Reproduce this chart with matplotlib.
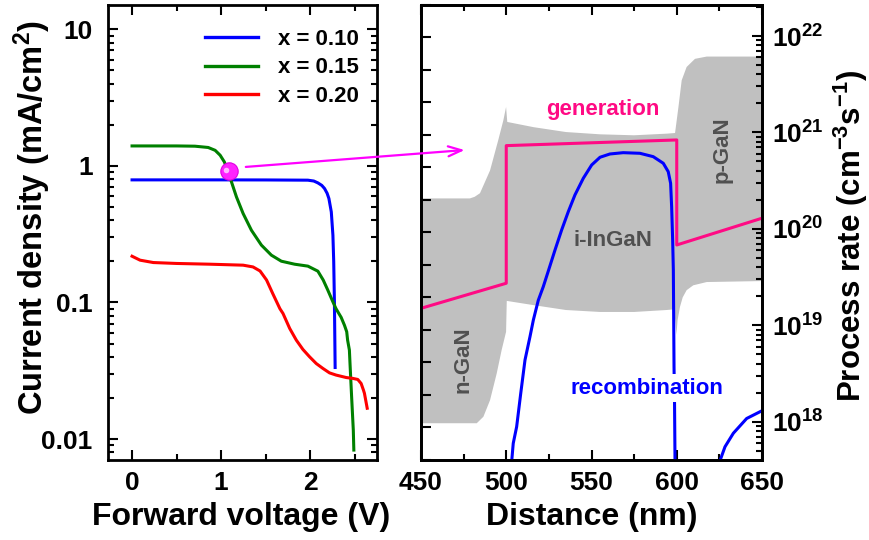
import numpy as np
import matplotlib
matplotlib.use('Agg')
import matplotlib.pyplot as plt
from matplotlib.ticker import LogLocator, NullFormatter, FixedLocator
from matplotlib.patches import ConnectionPatch

plt.rcParams['font.family'] = ['Liberation Sans', 'DejaVu Sans']
plt.rcParams['font.weight'] = 'bold'
plt.rcParams['mathtext.fontset'] = 'custom'
plt.rcParams['mathtext.rm'] = 'Liberation Sans:bold'
plt.rcParams['mathtext.bf'] = 'Liberation Sans:bold'
plt.rcParams['mathtext.it'] = 'Liberation Sans:bold'
plt.rcParams['mathtext.default'] = 'rm'

# ---------------- Left panel data: J-V curves ----------------
legend_labels = ['x = 0.10', 'x = 0.15', 'x = 0.20']
v_010 = [0.0, 0.5, 1.0, 1.5, 1.974, 2.04, 2.086, 2.13, 2.161, 2.19, 2.21, 2.237, 2.255,
         2.264, 2.272, 2.28]
j_010 = [0.79, 0.79, 0.79, 0.789, 0.786, 0.775, 0.751, 0.72, 0.683, 0.63, 0.577, 0.46, 0.311,
         0.20, 0.10, 0.0334]

v_015 = [0.0, 0.5, 0.706, 0.855, 0.933, 0.989, 1.036, 1.08, 1.116, 1.172, 1.247, 1.34, 1.452,
         1.564, 1.676, 1.825, 1.974, 2.086, 2.146, 2.198, 2.255, 2.29, 2.348, 2.385, 2.41,
         2.42, 2.44, 2.447, 2.465, 2.484, 2.49]
j_015 = [1.40, 1.40, 1.394, 1.364, 1.30, 1.197, 1.07, 0.903, 0.764, 0.593, 0.448, 0.338, 0.263,
         0.222, 0.2005, 0.1906, 0.1845, 0.1695, 0.146, 0.123, 0.101, 0.090, 0.0777, 0.068,
         0.061, 0.053, 0.0448, 0.0357, 0.0204, 0.0116, 0.0083]

v_020 = [0.0, 0.09, 0.239, 0.50, 0.873, 1.247, 1.358, 1.437, 1.51, 1.58, 1.66, 1.695, 1.77,
         1.844, 1.918, 1.993, 2.068, 2.142, 2.217, 2.29, 2.404, 2.477, 2.534, 2.572, 2.598,
         2.609, 2.64]
j_020 = [0.218, 0.204, 0.196, 0.193, 0.1906, 0.1875, 0.182, 0.170, 0.146, 0.116, 0.090, 0.083,
         0.0645, 0.053, 0.0453, 0.040, 0.0357, 0.0329, 0.0305, 0.0294, 0.0282, 0.0278, 0.0273,
         0.0255, 0.0228, 0.0216, 0.0168]

marker_v = [1.09]
marker_j = [0.92]

# ---------------- Right panel data ----------------
# energy band (arbitrary units, left axis)
band_top_x = [450, 478.7, 481.5, 484.6, 490.5, 495.3, 498.3, 499.9, 500.6, 516, 535, 555,
              575, 594, 599, 601, 602.9, 605.8, 610.7, 617.6, 650]
band_top = [8.04, 8.04, 8.09, 8.20, 8.90, 9.83, 10.44, 10.85, 10.39, 10.23, 10.08, 10.01,
            9.98, 10.03, 10.05, 10.85, 11.67, 12.08, 12.33, 12.40, 12.40]
band_bot_x = [450, 482.7, 486.6, 490.5, 494.4, 497.3, 499.9, 500.3, 516, 535, 555, 575,
              594, 598.4, 599.3, 599.8, 600.5, 601.9, 603.5, 605.8, 609.7, 617.6, 650]
band_bot = [1.13, 1.13, 1.33, 1.84, 2.66, 3.38, 3.94, 4.89, 4.76, 4.61, 4.55, 4.55,
            4.61, 4.63, 4.20, 3.85, 4.30, 4.71, 5.00, 5.22, 5.37, 5.47, 5.50]

# generation rate (cm^-3 s^-1)
gen_x = [450, 500, 500, 600, 600, 650]
gen_rate = [1.50e19, 2.73e19, 7.30e20, 8.36e20, 6.81e19, 1.29e20]

# recombination rate (cm^-3 s^-1)
rec_x = [503.0, 504.1, 506.1, 508.5, 511.0, 513.9, 515.9, 518.8, 521.7, 524.7, 528.6, 532.5,
         536.4, 540.3, 545.2, 550.1, 555.0, 560.8, 568.6, 578.4, 586.2, 592.1, 595.0, 596.4,
         597.0, 597.6, 598.0, 598.4, 598.7, 599.0]
rec_rate = [3.55e17, 5.97e17, 8.87e17, 1.97e18, 4.37e18, 7.59e18, 1.135e19, 1.82e19, 2.51e19,
            3.67e19, 6.04e19, 9.75e19, 1.51e20, 2.25e20, 3.35e20, 4.60e20, 5.53e20, 5.98e20,
            6.17e20, 6.08e20, 5.61e20, 4.79e20, 3.92e20, 2.97e20, 1.70e20, 7.67e19, 3.75e19,
            3.72e18, 1.58e18, 3.55e17]
rec2_x = [623.5, 628.3, 633.2, 641.0, 650.0]
rec2_rate = [3.2e17, 5.5e17, 7.6e17, 1.08e18, 1.3e18]

W, H = 869, 540
fig = plt.figure(figsize=(W / 100, H / 100), dpi=100)

TICK_FS = 19
LABEL_FS = 23
SPINE_LW = 2.0
LW = 2.2

ax1 = fig.add_axes([108 / W, 80 / H, 269 / W, 455.5 / H])
ax2 = fig.add_axes([421 / W, 80 / H, 341 / W, 455.5 / H])
ax2r = ax2.twinx()

# ---- left panel ----
ax1.plot(v_010, j_010, color='#0000FF', lw=LW, label=legend_labels[0])
ax1.plot(v_015, j_015, color='#008000', lw=LW, label=legend_labels[1])
ax1.plot(v_020, j_020, color='#FF0000', lw=LW, label=legend_labels[2])
ax1.set_yscale('log')
ax1.set_xlim(-0.27, 2.75)
ax1.set_ylim(0.00702, 15.2)
ax1.set_yticks([0.01, 0.1, 1, 10])
ax1.set_yticklabels(['0.01', '0.1', '1', '10'])
ax1.yaxis.set_minor_locator(LogLocator(base=10, subs=np.arange(2, 10)))
ax1.yaxis.set_minor_formatter(NullFormatter())
ax1.set_xticks([0, 1, 2])
ax1.xaxis.set_minor_locator(FixedLocator([0.5, 1.5, 2.5]))
ax1.tick_params(which='both', direction='in', top=True, right=True, width=1.5)
ax1.tick_params(which='major', length=7)
ax1.tick_params(which='minor', length=4)
ax1.tick_params(axis='y', which='major', labelsize=TICK_FS, pad=11)
ax1.tick_params(axis='x', which='major', labelsize=TICK_FS, pad=8)
for s in ax1.spines.values():
    s.set_linewidth(SPINE_LW)

leg = ax1.legend(loc='upper right', bbox_to_anchor=(1.0, 0.985), frameon=False,
                 fontsize=16, handlelength=2.4, handletextpad=0.9, labelspacing=0.33,
                 borderaxespad=0.4)
for line in leg.get_lines():
    line.set_linewidth(2.4)

# marker (sphere)
ax1.plot(marker_v, marker_j, 'o', ms=12.5, color='#FF22FF', mec='#E000E0', mew=0.8, zorder=5)
ax1.plot([marker_v[0] * 0.97], [marker_j[0] * 1.02], 'o', ms=4, color='#FFC8FF',
         mec='none', alpha=0.9, zorder=6)

# ---- right panel ----
poly_x = band_top_x + band_bot_x[::-1]
poly_y = band_top + band_bot[::-1]
ax2.fill(poly_x, poly_y, color='#C0C0C0', lw=0)
ax2.set_xlim(450, 650)
ax2.set_ylim(0, 14)
ax2.set_yticks(range(0, 15))
ax2.tick_params(axis='y', which='both', direction='in', left=True, right=False,
                labelleft=False, length=7, width=1.5)
ax2.set_xticks([450, 500, 550, 600, 650])
ax2.xaxis.set_minor_locator(FixedLocator([475, 525, 575, 625]))
ax2.tick_params(axis='x', which='both', direction='in', top=True, bottom=True, width=1.5)
ax2.tick_params(axis='x', which='major', length=7, labelsize=TICK_FS, pad=8)
ax2.tick_params(axis='x', which='minor', length=4)

ax2r.plot(gen_x, gen_rate, color='#FF0A84', lw=LW)
ax2r.plot(rec_x, rec_rate, color='#0000FF', lw=LW)
ax2r.plot(rec2_x, rec2_rate, color='#0000FF', lw=LW)
ax2r.set_yscale('log')
ax2r.set_ylim(10 ** 17.603, 10 ** 22.327)
ax2r.set_xlim(450, 650)
ax2r.set_yticks([1e18, 1e19, 1e20, 1e21, 1e22])
ax2r.set_yticklabels([r'$\mathbf{10^{18}}$', r'$\mathbf{10^{19}}$', r'$\mathbf{10^{20}}$',
                      r'$\mathbf{10^{21}}$', r'$\mathbf{10^{22}}$'])
ax2r.yaxis.set_minor_locator(LogLocator(base=10, subs=np.arange(2, 10)))
ax2r.yaxis.set_minor_formatter(NullFormatter())
ax2r.tick_params(axis='y', which='both', direction='in', right=True, left=False, width=1.5)
ax2r.tick_params(axis='y', which='major', length=7, labelsize=TICK_FS, pad=7)
ax2r.tick_params(axis='y', which='minor', length=4)
for a in (ax2, ax2r):
    for s in a.spines.values():
        s.set_linewidth(SPINE_LW)

# annotations in band coordinates
tr = ax2.transData
ax2r.text(556.7, 10.76, 'generation', transform=tr, color='#FF0A84', fontsize=16,
          ha='center', va='center', zorder=10)
ax2r.text(626.5, 9.53, 'p-GaN', transform=tr, color='#505050', fontsize=16,
          ha='center', va='center', rotation=90, zorder=10)
ax2r.text(562.6, 6.76, 'i-InGaN', transform=tr, color='#505050', fontsize=16,
          ha='center', va='center', zorder=10)
ax2r.text(474.6, 3.07, 'n-GaN', transform=tr, color='#505050', fontsize=16,
          ha='center', va='center', rotation=90, zorder=10)
ax2r.text(582.6, 2.21, 'recombination', transform=tr, color='#0000FF', fontsize=16,
          ha='center', va='center', zorder=10,
          bbox=dict(boxstyle='square,pad=0.15', fc='white', ec='none'))

# arrow from marker to right panel
con = ConnectionPatch(xyA=(1.277, 0.983), coordsA=ax1.transData,
                      xyB=(475.6, 6.57e20), coordsB=ax2r.transData,
                      arrowstyle='->,head_length=0.8,head_width=0.3', mutation_scale=12,
                      color='#FF00FF', lw=1.6, shrinkA=0, shrinkB=0)
fig.add_artist(con)

# axis labels
fig.text(241.5 / W, 1 - 517 / H, 'Forward voltage (V)', fontsize=LABEL_FS,
         ha='center', va='center')
fig.text(592 / W, 1 - 517 / H, 'Distance (nm)', fontsize=LABEL_FS,
         ha='center', va='center')
fig.text(32 / W, 1 - 218 / H, r'Current density (mA/cm$^{\mathbf{2}}$)', fontsize=23.5,
         ha='center', va='center', rotation=90)
fig.text(851 / W, 1 - 236 / H, r'Process rate (cm$^{\mathbf{-3}}$s$^{\mathbf{-1}}$)',
         fontsize=22.5, ha='center', va='center', rotation=90)

fig.savefig('out.png', dpi=100)
